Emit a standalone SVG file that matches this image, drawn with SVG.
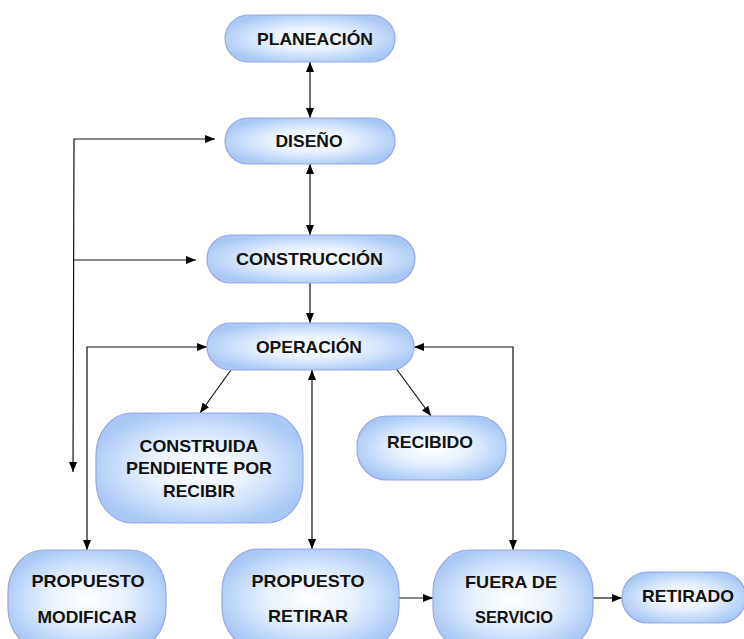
<svg xmlns="http://www.w3.org/2000/svg" width="744" height="639" viewBox="0 0 744 639">
  <defs>
    <radialGradient id="fillGrad" cx="0.5" cy="0.5" r="0.55">
      <stop offset="0" stop-color="#ffffff"/>
      <stop offset="0.45" stop-color="#e8f1fd"/>
      <stop offset="1" stop-color="#a9c8f6"/>
    </radialGradient>
    <marker id="arrow" viewBox="0 0 10 8" refX="10" refY="4" markerWidth="10" markerHeight="8" markerUnits="userSpaceOnUse" orient="auto-start-reverse">
      <path d="M0,0 L10,4 L0,8 z" fill="#000"/>
    </marker>
  </defs>
  <style>
    .node { fill: url(#fillGrad); stroke: #98a6e6; stroke-width: 1.2; }
    .lbl { font-family: "Liberation Sans", Arial, sans-serif; font-weight: bold; font-size: 17px; fill: #111; text-anchor: middle; }
    .conn { fill: none; stroke: #111; stroke-width: 1.2; }
  </style>
  <rect width="744" height="639" fill="#ffffff"/>

  <g id="connectors">
    <line class="conn" x1="310" y1="62" x2="310" y2="118" marker-start="url(#arrow)" marker-end="url(#arrow)"/>
    <line class="conn" x1="310" y1="164" x2="310" y2="235" marker-start="url(#arrow)" marker-end="url(#arrow)"/>
    <line class="conn" x1="310" y1="283" x2="310" y2="323" marker-end="url(#arrow)"/>
    <polyline class="conn" points="215,139 74,139 73,472" marker-start="url(#arrow)" marker-end="url(#arrow)"/>
    <line class="conn" x1="74" y1="260" x2="196" y2="260" marker-end="url(#arrow)"/>
    <polyline class="conn" points="207,347 87,347 87,550" marker-start="url(#arrow)" marker-end="url(#arrow)"/>
    <line class="conn" x1="231" y1="370" x2="200" y2="413" marker-end="url(#arrow)"/>
    <line class="conn" x1="395" y1="367" x2="431" y2="416" marker-end="url(#arrow)"/>
    <line class="conn" x1="312" y1="370" x2="312" y2="549" marker-start="url(#arrow)" marker-end="url(#arrow)"/>
    <polyline class="conn" points="414,347 513,347 513,550" marker-start="url(#arrow)" marker-end="url(#arrow)"/>
    <line class="conn" x1="399" y1="598" x2="433" y2="598" marker-end="url(#arrow)"/>
    <line class="conn" x1="593" y1="598" x2="622" y2="598" marker-end="url(#arrow)"/>
  </g>

  <g id="planeacion">
    <rect class="node" x="225" y="15" width="170" height="47" rx="23.5" ry="23.5"/>
    <text class="lbl" x="315" y="45" textLength="116" lengthAdjust="spacingAndGlyphs">PLANEACIÓN</text>
  </g>
  <g id="diseno">
    <rect class="node" x="225" y="118" width="170" height="46" rx="23" ry="23"/>
    <text class="lbl" x="309" y="147" textLength="67" lengthAdjust="spacingAndGlyphs">DISEÑO</text>
  </g>
  <g id="construccion">
    <rect class="node" x="207" y="235" width="208" height="48" rx="24" ry="24"/>
    <text class="lbl" x="309.5" y="265" textLength="147" lengthAdjust="spacingAndGlyphs">CONSTRUCCIÓN</text>
  </g>
  <g id="operacion">
    <rect class="node" x="207" y="323" width="207" height="47" rx="23.5" ry="23.5"/>
    <text class="lbl" x="309" y="353" textLength="106" lengthAdjust="spacingAndGlyphs">OPERACIÓN</text>
  </g>
  <g id="construida">
    <rect class="node" x="96" y="413" width="207" height="110" rx="36" ry="42"/>
    <text class="lbl" x="199" y="452" textLength="119" lengthAdjust="spacingAndGlyphs">CONSTRUIDA</text>
    <text class="lbl" x="199" y="474" textLength="146" lengthAdjust="spacingAndGlyphs">PENDIENTE POR</text>
    <text class="lbl" x="199" y="497" textLength="72" lengthAdjust="spacingAndGlyphs">RECIBIR</text>
  </g>
  <g id="recibido">
    <rect class="node" x="357" y="416" width="149" height="64" rx="30" ry="30"/>
    <text class="lbl" x="430" y="448" textLength="86" lengthAdjust="spacingAndGlyphs">RECIBIDO</text>
  </g>
  <g id="propuesto-modificar">
    <rect class="node" x="8" y="550" width="158" height="100" rx="36" ry="42"/>
    <text class="lbl" x="88" y="587" textLength="113" lengthAdjust="spacingAndGlyphs">PROPUESTO</text>
    <text class="lbl" x="87" y="623" textLength="99" lengthAdjust="spacingAndGlyphs">MODIFICAR</text>
  </g>
  <g id="propuesto-retirar">
    <rect class="node" x="222" y="549" width="177" height="100" rx="36" ry="42"/>
    <text class="lbl" x="308" y="587" textLength="113" lengthAdjust="spacingAndGlyphs">PROPUESTO</text>
    <text class="lbl" x="308" y="622" textLength="80" lengthAdjust="spacingAndGlyphs">RETIRAR</text>
  </g>
  <g id="fuera-de-servicio">
    <rect class="node" x="433" y="550" width="160" height="100" rx="36" ry="42"/>
    <text class="lbl" x="511" y="588" textLength="92" lengthAdjust="spacingAndGlyphs">FUERA DE</text>
    <text class="lbl" x="514" y="623" textLength="78" lengthAdjust="spacingAndGlyphs">SERVICIO</text>
  </g>
  <g id="retirado">
    <rect class="node" x="622" y="572" width="124" height="51" rx="25.5" ry="25.5"/>
    <text class="lbl" x="688" y="602" textLength="92" lengthAdjust="spacingAndGlyphs">RETIRADO</text>
  </g>
</svg>
